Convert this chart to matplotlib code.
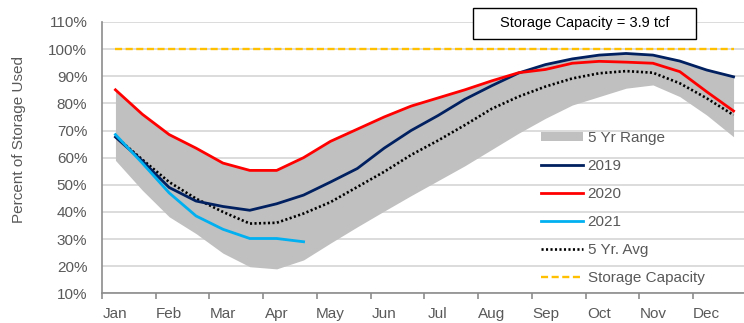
import matplotlib.pyplot as plt
import matplotlib.patches as mpatches
from matplotlib.lines import Line2D

plt.rcParams['font.family'] = ['Liberation Sans', 'DejaVu Sans']

# semi-monthly storage readings, % of working gas capacity
months = ['Jan', 'Feb', 'Mar', 'Apr', 'May', 'Jun', 'Jul', 'Aug', 'Sep', 'Oct', 'Nov', 'Dec']
week_pos = [0.25 + 0.5 * i for i in range(24)]

range_lo = [59, 48, 38.2, 32, 24.8, 19.8, 19, 22.3, 28.5, 34.5, 40.3, 46, 51.5, 57, 63, 69,
            74.5, 79.4, 82.5, 85.6, 86.8, 82.5, 75.7, 67.7]
range_hi = [85, 76, 68.5, 63.5, 58, 55.3, 55.3, 60, 66, 70.5, 75, 79, 82, 85, 88.3, 91.3,
            94.5, 96.4, 97.8, 98.4, 97.8, 95.6, 92.3, 89.8]
y2019 = [67.6, 58.8, 49, 44, 42, 40.6, 43, 46.2, 51, 56, 63.5, 70, 75.5, 81.5, 86.5, 91.2,
         94.3, 96.4, 97.8, 98.4, 97.8, 95.6, 92.3, 89.8]
y2020 = [85, 76, 68.5, 63.5, 58, 55.3, 55.3, 60, 66, 70.5, 75, 79, 82, 85, 88.3, 91.3,
         92.5, 94.8, 95.5, 95.2, 94.8, 91.7, 84.3, 77.2]
y2021 = [68.5, 58, 47, 38.5, 33.6, 30.2, 30.2, 29]
avg5 = [67.8, 59.3, 51, 44.9, 40, 35.7, 36, 39.4, 43.6, 49.2, 54.8, 61, 66.3, 72, 78, 82.5,
        86.2, 89.2, 91.1, 91.9, 91.3, 87.4, 81.9, 75.7]
capacity = 100
capacity_label = 'Storage Capacity = 3.9 tcf'

grey_txt = '#595959'

fig = plt.figure(figsize=(7.44, 3.23), dpi=100)
W, H = 744, 323
ax = fig.add_axes([102 / W, (H - 293.3) / H, 645 / W, (293.3 - 22) / H])

ax.fill_between(week_pos, range_lo, range_hi, color='#C0C0C0', lw=0, zorder=2)
ax.plot(week_pos, y2019, color='#002060', lw=2, zorder=4)
ax.plot(week_pos, y2020, color='#FF0000', lw=2, zorder=4)
ax.plot(week_pos[:len(y2021)], y2021, color='#00B0F0', lw=2, zorder=5)
ax.plot(week_pos, avg5, color='black', lw=1.9, ls=(0, (0.8, 0.9)), zorder=3)
ax.plot(week_pos, [capacity] * len(week_pos), color='#FFC000', lw=1.7, ls=(0, (3, 1.5)), zorder=3)

ax.set_xlim(0, 12)
ax.set_ylim(10, 110)
ax.set_yticks(range(10, 111, 10))
ax.set_yticklabels([f'{v}%' for v in range(10, 111, 10)])
ax.tick_params(axis='y', length=0, pad=10.6, labelsize=11, labelcolor=grey_txt)
ax.yaxis.grid(True, color='#D9D9D9', lw=1.3, zorder=0)
ax.set_axisbelow(True)

# tick marks on month boundaries, names sit on the first reading of each month
ax.set_xticks(range(0, 13))
ax.set_xticklabels([])
ax.set_xticks([m + 0.25 for m in range(12)], minor=True)
ax.set_xticklabels(months, minor=True)
ax.tick_params(axis='x', which='major', direction='out', length=4, width=1.2, color='#8C8C8C')
ax.tick_params(axis='x', which='minor', length=0, pad=10, labelsize=11, labelcolor=grey_txt)

for side in ['top', 'right']:
    ax.spines[side].set_visible(False)
for side in ['left', 'bottom']:
    ax.spines[side].set_color('#8C8C8C')
    ax.spines[side].set_linewidth(1.2)

fig.text(19.5 / W, 1 - 139.5 / H, 'Percent of Storage Used', rotation=90,
         ha='center', va='center', fontsize=11, color=grey_txt)

handles = [
    mpatches.Patch(color='#C0C0C0', lw=0),
    Line2D([], [], color='#002060', lw=2),
    Line2D([], [], color='#FF0000', lw=2),
    Line2D([], [], color='#00B0F0', lw=2),
    Line2D([], [], color='black', lw=1.9, ls=(0, (0.8, 0.9))),
    Line2D([], [], color='#FFC000', lw=1.7, ls=(0, (3, 1.5))),
]
labels = ['5 Yr Range', '2019', '2020', '2021', '5 Yr. Avg', 'Storage Capacity']
ax.legend(handles, labels, loc='upper left', bbox_to_anchor=(541 / W, 1 - 131 / H),
          bbox_transform=fig.transFigure, frameon=False, fontsize=11, labelcolor=grey_txt,
          handlelength=2.75, handleheight=0.55, handletextpad=0.3, labelspacing=0.91,
          borderpad=0, borderaxespad=0)

# capacity note box
box = mpatches.Rectangle((473 / W, 1 - 39 / H), 223 / W, 31 / H, transform=fig.transFigure,
                         facecolor='white', edgecolor='black', lw=1, zorder=10)
fig.add_artist(box)
fig.text(584.5 / W, 1 - 23.5 / H, capacity_label, ha='center', va='center',
         fontsize=10.5, color='black', zorder=11)

fig.savefig('out.png', dpi=100)
